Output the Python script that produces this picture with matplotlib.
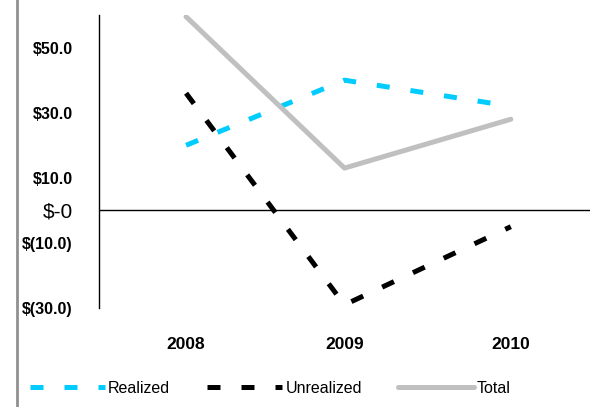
import matplotlib
matplotlib.use('Agg')
import matplotlib.pyplot as plt
from matplotlib.lines import Line2D

years = ['2008', '2009', '2010']
realized = [20.0, 40.0, 32.0]
unrealized = [36.0, -29.0, -5.0]
total = [59.5, 13.0, 28.0]
tick_vals = [50, 30, 10, 0, -10, -30]
tick_labels = ['$50.0', '$30.0', '$10.0', '$-0', '$(10.0)', '$(30.0)']

plt.rcParams['font.family'] = ['Liberation Sans Narrow', 'Liberation Sans', 'DejaVu Sans']

fig = plt.figure(figsize=(5.96, 4.07), dpi=100)
ax = fig.add_axes([0.166, 0.243, 0.824, 0.72])

x = [0.2, 1.2, 2.25]
ax.plot(x, realized, color='#00CCFF', lw=3.6, dashes=(2.6, 4.2), label='Realized')
ax.plot(x, unrealized, color='black', lw=3.6, dashes=(2.6, 4.2), label='Unrealized')
ax.plot(x, total, color='#C0C0C0', lw=3.6, solid_capstyle='round', label='Total')
ax.axhline(0, color='black', lw=1)

ax.set_xlim(-0.35, 2.75)
ax.set_ylim(-30, 60)
ax.set_xticks(x)
ax.set_xticklabels(years, fontsize=12.5, fontweight='bold')
ax.set_yticks(tick_vals)
ax.set_yticklabels(tick_labels, fontsize=11.5, fontweight='bold')
for lab in ax.get_yticklabels():
    if lab.get_text() == '$-0':
        lab.set_fontsize(15)
        lab.set_fontweight('normal')
ax.tick_params(axis='x', length=0, pad=21)
ax.tick_params(axis='y', length=0, pad=19)

for side in ['top', 'right', 'bottom']:
    ax.spines[side].set_visible(False)
ax.spines['left'].set_linewidth(1)

# page border line on the left
fig.add_artist(Line2D([0.029, 0.029], [0, 1], color='#909090', lw=2))

leg = fig.legend(loc='lower left', bbox_to_anchor=(0.026, -0.008), ncol=3,
                 frameon=False, fontsize=11.5, handlelength=4.7,
                 handletextpad=0.2, columnspacing=2.3)

fig.savefig('out.png', dpi=100, facecolor='white')
